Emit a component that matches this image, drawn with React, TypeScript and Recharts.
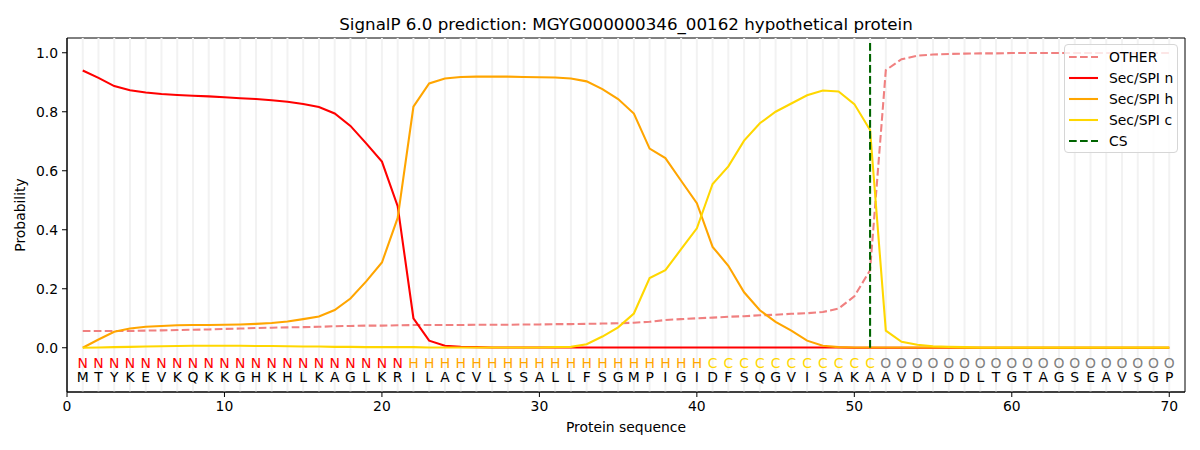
import React from 'react';
import { ComposedChart, Line, XAxis, YAxis, ReferenceLine, ReferenceArea, Legend } from 'recharts';

const sequence = 'MTYKEVKQKKGHKHLKAGLKRILACVLSSALLFSGMPIGIDFSQGVISAKAAVDIDDLTGTAGSEAVSGP';
const regionLabels = 'N'.repeat(21) + 'H'.repeat(19) + 'C'.repeat(11) + 'O'.repeat(19);
const cleavageSite = 51;

const otherProb = [
  0.057, 0.057, 0.057, 0.057, 0.058, 0.059, 0.060, 0.061, 0.062, 0.064,
  0.065, 0.067, 0.068, 0.069, 0.070, 0.071, 0.073, 0.074, 0.075, 0.075,
  0.076, 0.077, 0.077, 0.077, 0.077, 0.078, 0.078, 0.078, 0.079, 0.079,
  0.080, 0.080, 0.081, 0.082, 0.083, 0.085, 0.088, 0.094, 0.097, 0.100,
  0.102, 0.105, 0.107, 0.110, 0.112, 0.115, 0.117, 0.121, 0.133, 0.174,
  0.263, 0.941, 0.978, 0.990, 0.994, 0.996, 0.997, 0.998, 0.998, 0.999,
  0.999, 0.999, 0.999, 0.999, 0.999, 0.999, 0.999, 0.999, 0.999, 0.999,
];
const secN = [
  0.940, 0.915, 0.887, 0.873, 0.865, 0.860, 0.857, 0.854, 0.852, 0.849,
  0.846, 0.843, 0.839, 0.834, 0.826, 0.816, 0.794, 0.752, 0.693, 0.631,
  0.480, 0.100, 0.024, 0.007, 0.003, 0.002, 0.001, 0.001, 0.001, 0.001,
  0.001, 0.001, 0.001, 0.001, 0.001, 0.001, 0.001, 0.001, 0.001, 0.001,
  0.001, 0.001, 0.001, 0.001, 0.001, 0.001, 0.001, 0.001, 0.001, 0.000,
  0.000, 0.000, 0.000, 0.000, 0.000, 0.000, 0.000, 0.000, 0.000, 0.000,
  0.000, 0.000, 0.000, 0.000, 0.000, 0.000, 0.000, 0.000, 0.000, 0.000,
];
const secH = [
  0.000, 0.028, 0.054, 0.065, 0.071, 0.074, 0.076, 0.077, 0.077, 0.078,
  0.079, 0.081, 0.084, 0.089, 0.097, 0.106, 0.128, 0.167, 0.225, 0.289,
  0.440, 0.817, 0.896, 0.913, 0.918, 0.919, 0.919, 0.919, 0.918, 0.917,
  0.916, 0.913, 0.903, 0.877, 0.843, 0.794, 0.675, 0.643, 0.566, 0.490,
  0.342, 0.278, 0.188, 0.127, 0.088, 0.058, 0.024, 0.007, 0.002, 0.001,
  0.001, 0.001, 0.001, 0.001, 0.001, 0.001, 0.000, 0.000, 0.000, 0.000,
  0.000, 0.000, 0.000, 0.000, 0.000, 0.000, 0.000, 0.000, 0.000, 0.000,
];
const secC = [
  0.000, 0.001, 0.002, 0.003, 0.004, 0.005, 0.006, 0.007, 0.007, 0.007,
  0.007, 0.006, 0.006, 0.005, 0.004, 0.004, 0.003, 0.003, 0.002, 0.002,
  0.002, 0.002, 0.001, 0.001, 0.001, 0.001, 0.001, 0.001, 0.001, 0.001,
  0.002, 0.003, 0.012, 0.038, 0.069, 0.116, 0.236, 0.263, 0.334, 0.405,
  0.555, 0.615, 0.702, 0.761, 0.800, 0.828, 0.856, 0.872, 0.869, 0.826,
  0.738, 0.058, 0.020, 0.010, 0.005, 0.003, 0.002, 0.001, 0.001, 0.001,
  0.001, 0.001, 0.001, 0.001, 0.001, 0.001, 0.001, 0.001, 0.001, 0.001,
];

const xTicks = [0, 10, 20, 30, 40, 50, 60, 70];
const yTicks = [0, 0.2, 0.4, 0.6, 0.8, 1.0];
const regionRowY = -0.05;
const residueRowY = -0.1;

const regionColors: Record<string, string> = { N: '#ff0000', H: '#ffa500', C: '#ffd700', O: '#808080' };

const data = sequence.split('').map((aa, i) => ({
  pos: i + 1,
  aa,
  region: regionLabels[i],
  other: otherProb[i],
  n: secN[i],
  h: secH[i],
  c: secC[i],
  regionY: regionRowY,
  residueY: residueRowY,
}));

const FONT = '"DejaVu Sans", sans-serif';
const LW = 2.08;
const DASH = '7.7 3.3';

const legendItems = [
  { label: 'OTHER', color: '#f08080', dash: DASH },
  { label: 'Sec/SPI n', color: '#ff0000', dash: undefined },
  { label: 'Sec/SPI h', color: '#ffa500', dash: undefined },
  { label: 'Sec/SPI c', color: '#ffd700', dash: undefined },
  { label: 'CS', color: '#006400', dash: DASH },
];

const renderLegend = () => (
  <div
    style={{
      width: 114,
      height: 109,
      boxSizing: 'border-box',
      border: '1px solid #d6d6d6',
      borderRadius: 4,
      background: 'rgba(255,255,255,0.8)',
      fontFamily: FONT,
      fontSize: 13.9,
      color: '#000',
      paddingTop: 2,
    }}
  >
    {legendItems.map((it) => (
      <div key={it.label} style={{ height: 20.9, display: 'flex', alignItems: 'center' }}>
        <svg width={44} height={20} style={{ flex: 'none' }}>
          <line x1={4} y1={10} x2={33} y2={10} stroke={it.color} strokeWidth={LW} strokeDasharray={it.dash} />
        </svg>
        <span style={{ whiteSpace: 'nowrap' }}>{it.label}</span>
      </div>
    ))}
  </div>
);

const makeTextDot = (field: 'region' | 'aa') => (props: any) => {
  const { cx, cy, payload, index } = props;
  const ch = payload[field];
  const fill = field === 'region' ? regionColors[ch] : '#000';
  return (
    <text
      key={`${field}-${index}`}
      x={cx}
      y={cy}
      textAnchor="middle"
      dominantBaseline="central"
      fill={fill}
      fontSize={13.9}
      fontFamily={FONT}
    >
      {ch}
    </text>
  );
};

export default function App() {
  return (
    <div style={{ position: 'absolute', left: 0, top: 0, width: 1200, height: 450, background: '#fff', fontFamily: FONT }}>
      <div
        style={{
          position: 'absolute',
          left: 67,
          width: 1118,
          top: 13,
          textAlign: 'center',
          fontSize: 16.7,
          lineHeight: '22px',
          color: '#000',
        }}
      >
        SignalP 6.0 prediction: MGYG000000346_00162 hypothetical protein
      </div>
      <ComposedChart width={1200} height={450} data={data} margin={{ top: 38, right: 15, bottom: 0, left: 0 }}>
        {data.map((d) => (
          <ReferenceLine key={`g${d.pos}`} x={d.pos} stroke="#f2f2f2" strokeWidth={2} />
        ))}
        <XAxis
          dataKey="pos"
          type="number"
          domain={[0, 71]}
          ticks={xTicks}
          allowDataOverflow
          height={58}
          tickSize={5}
          tickMargin={4}
          stroke="#000"
          tick={{ fill: '#000', fontSize: 13.9, fontFamily: FONT }}
          label={{ value: 'Protein sequence', position: 'insideBottom', offset: 18, fill: '#000', fontSize: 13.9, fontFamily: FONT }}
        />
        <YAxis
          type="number"
          domain={[-0.15, 1.05]}
          ticks={yTicks}
          allowDataOverflow
          width={67}
          tickSize={5}
          tickMargin={4}
          stroke="#000"
          tickFormatter={(v: number) => v.toFixed(1)}
          tick={{ fill: '#000', fontSize: 13.9, fontFamily: FONT }}
          label={{ value: 'Probability', angle: -90, position: 'insideLeft', offset: 20, fill: '#000', fontSize: 13.9, fontFamily: FONT, style: { textAnchor: 'middle' } }}
        />
        <Line dataKey="other" stroke="#f08080" strokeWidth={LW} strokeDasharray={DASH} dot={false} activeDot={false} isAnimationActive={false} />
        <Line dataKey="n" stroke="#ff0000" strokeWidth={LW} dot={false} activeDot={false} isAnimationActive={false} />
        <Line dataKey="h" stroke="#ffa500" strokeWidth={LW} dot={false} activeDot={false} isAnimationActive={false} />
        <Line dataKey="c" stroke="#ffd700" strokeWidth={LW} dot={false} activeDot={false} isAnimationActive={false} />
        <ReferenceLine
          segment={[{ x: cleavageSite, y: 0 }, { x: cleavageSite, y: 1.035 }]}
          stroke="#006400"
          strokeWidth={LW}
          strokeDasharray={DASH}
        />
        <Line dataKey="regionY" stroke="none" legendType="none" dot={makeTextDot('region')} activeDot={false} isAnimationActive={false} />
        <Line dataKey="residueY" stroke="none" legendType="none" dot={makeTextDot('aa')} activeDot={false} isAnimationActive={false} />
        <ReferenceArea x1={0} x2={71} y1={-0.15} y2={1.05} fill="none" stroke="#000" strokeWidth={1} />
        <Legend
          layout="vertical"
          align="center"
          verticalAlign="middle"
          content={renderLegend}
          wrapperStyle={{ position: 'absolute', left: 1064, top: 44, width: 114, height: 109 }}
        />
      </ComposedChart>
    </div>
  );
}
